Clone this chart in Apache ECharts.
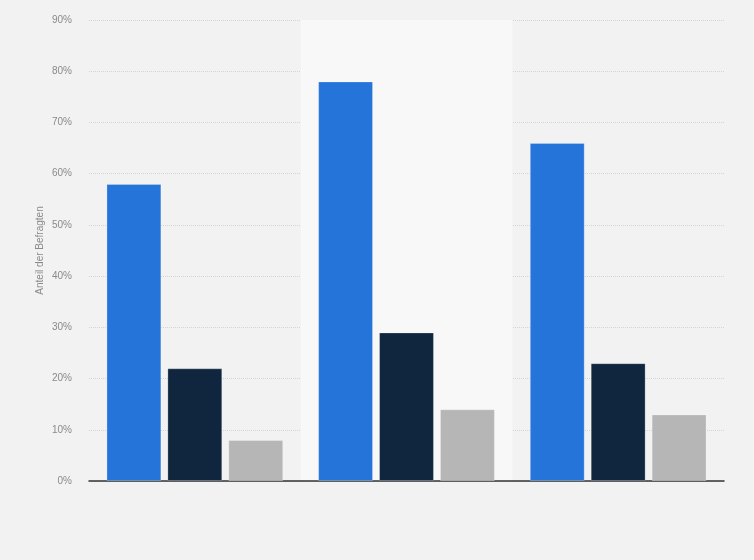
<!DOCTYPE html>
<html>
<head>
<meta charset="utf-8">
<script src="https://cdn.jsdelivr.net/npm/echarts@6/dist/echarts.min.js"></script>
<style>
html,body{margin:0;padding:0;background:#f2f2f2;}
#chart{width:754px;height:560px;}
</style>
</head>
<body>
<div id="chart"></div>
<script>
var categories = ['Gruppe 1', 'Gruppe 2', 'Gruppe 3'];
var seriesNames = ['Serie 1', 'Serie 2', 'Serie 3'];
var series1 = [58, 78, 66];
var series2 = [22, 29, 23];
var series3 = [8, 14, 13];
var colors = ['#2574d9', '#0f263e', '#b6b6b6'];
var yTicks = [0, 10, 20, 30, 40, 50, 60, 70, 80, 90];

var chart = echarts.init(document.getElementById('chart'));
var values = [series1, series2, series3];
var seriesList = values.map(function (v, i) {
  return {
    name: seriesNames[i],
    type: 'bar',
    data: v,
    barGap: '11%',
    barCategoryGap: '16.5%',
    itemStyle: { color: colors[i], borderColor: 'rgba(255,255,255,0.25)', borderWidth: 1 },
    emphasis: { disabled: true }
  };
});

chart.setOption({
  backgroundColor: '#f2f2f2',
  animation: false,
  grid: { left: 89, right: 30, top: 20, bottom: 79, containLabel: false },
  xAxis: {
    type: 'category',
    data: categories,
    axisLine: { lineStyle: { color: '#333', width: 1.5 } },
    axisTick: { show: false },
    axisLabel: { show: false },
    splitArea: { show: true, areaStyle: { color: ['rgba(0,0,0,0)', '#f8f8f8'] } }
  },
  yAxis: {
    type: 'value',
    min: yTicks[0],
    max: yTicks[yTicks.length - 1],
    interval: 10,
    name: 'Anteil der Befragten',
    nameLocation: 'middle',
    nameMoveOverlap: false,
    nameGap: 44,
    nameTextStyle: { color: '#8a8a8a', fontSize: 10, fontFamily: 'Arial, Liberation Sans, sans-serif' },
    axisLine: { show: false },
    axisTick: { show: false },
    axisLabel: {
      color: '#8a8a8a', fontSize: 10, margin: 17,
      fontFamily: 'Arial, Liberation Sans, sans-serif',
      formatter: function (v) { return v + '%'; }
    },
    splitLine: { lineStyle: { color: '#d4d4d4', type: [1, 1], width: 1 } }
  },
  series: seriesList
});
</script>
</body>
</html>
